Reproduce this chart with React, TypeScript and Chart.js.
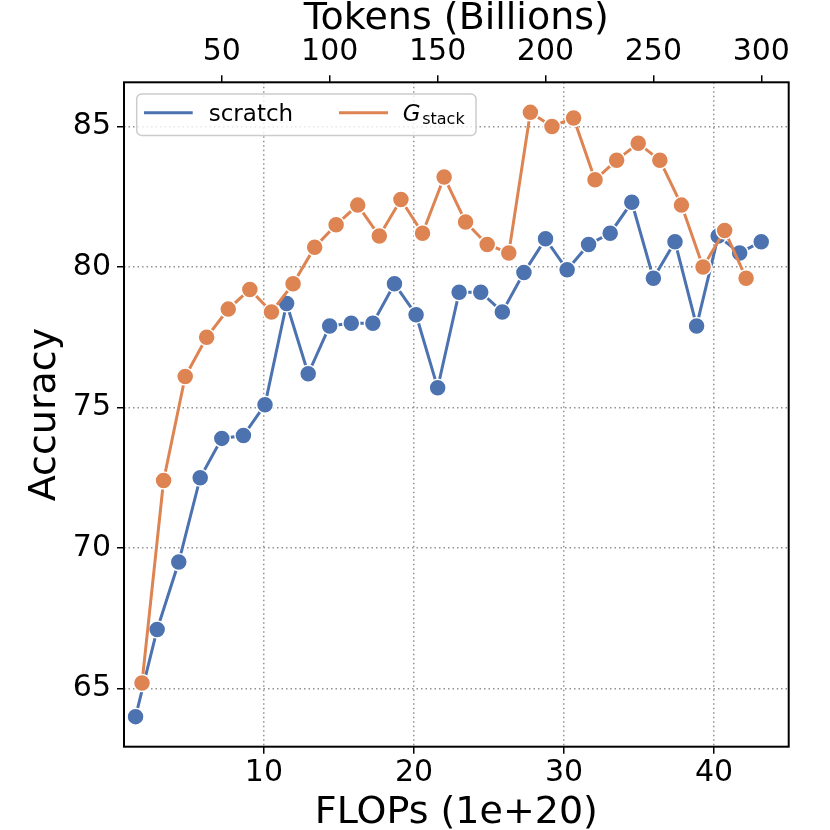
import React, { useEffect, useRef } from 'react';
import { Chart, registerables } from 'chart.js';

Chart.register(...registerables);

// FLOPs (1e+20) of each checkpoint
const scratchFlops = [1.44, 2.88, 4.32, 5.75, 7.19, 8.63, 10.07, 11.51, 12.95, 14.38, 15.82, 17.26, 18.70, 20.14, 21.58,
  23.01, 24.45, 25.89, 27.33, 28.77, 30.21, 31.64, 33.08, 34.52, 35.96, 37.40, 38.84, 40.28, 41.71, 43.15];
const scratchAcc = [64.0, 67.1, 69.5, 72.5, 73.9, 74.0, 75.1, 78.7, 76.2, 77.9, 78.0, 78.0, 79.4, 78.3, 75.7,
  79.1, 79.1, 78.4, 79.8, 81.0, 79.9, 80.8, 81.2, 82.3, 79.6, 80.9, 77.9, 81.1, 80.5, 80.9];

const gstackFlops = [1.87, 3.31, 4.75, 6.18, 7.62, 9.06, 10.50, 11.94, 13.38, 14.81, 16.25, 17.69, 19.13, 20.57, 22.01,
  23.44, 24.88, 26.32, 27.76, 29.20, 30.64, 32.07, 33.51, 34.95, 36.39, 37.83, 39.27, 40.71, 42.14];
const gstackAcc = [65.2, 72.4, 76.1, 77.5, 78.5, 79.2, 78.4, 79.4, 80.7, 81.5, 82.2, 81.1, 82.4, 81.2, 83.2,
  81.6, 80.8, 80.5, 85.5, 85.0, 85.3, 83.1, 83.8, 84.4, 83.8, 82.2, 80.0, 81.3, 79.6];

const flopsTicks = [10, 20, 30, 40];
const tokenTicks = [50, 100, 150, 200, 250, 300];
const accTicks = [65, 70, 75, 80, 85];

const FLOPS_PER_BTOKEN = 0.14384; // 1e20 FLOPs per billion tokens (top axis)
const X_MIN = 0.67;
const X_MAX = 44.98;
const Y_MIN = 62.93;
const Y_MAX = 86.57;

const BLUE = '#4C72B0';
const ORANGE = '#DD8452';
const GRID = 'rgba(128,128,128,0.85)';
const FONT = "'DejaVu Sans', sans-serif";

// matplotlib-like frame + legend (G with subscript "stack")
const framePlugin = {
  id: 'frameLegend',
  afterDatasetsDraw(chart: any) {
    const { ctx, chartArea: a } = chart;
    ctx.save();
    ctx.strokeStyle = '#000';
    ctx.lineWidth = 2;
    ctx.strokeRect(a.left, a.top, a.right - a.left, a.bottom - a.top);

    const lx = a.left + 12.7;
    const ly = a.top + 11.8;
    ctx.beginPath();
    ctx.roundRect(lx, ly, 339.3, 41.4, 5);
    ctx.fillStyle = 'rgba(255,255,255,0.8)';
    ctx.fill();
    ctx.strokeStyle = '#cccccc';
    ctx.lineWidth = 1.5;
    ctx.stroke();

    const my = ly + 18.7;
    ctx.lineWidth = 3;
    ctx.strokeStyle = BLUE;
    ctx.beginPath();
    ctx.moveTo(lx + 7.3, my);
    ctx.lineTo(lx + 56, my);
    ctx.stroke();
    ctx.strokeStyle = ORANGE;
    ctx.beginPath();
    ctx.moveTo(lx + 202.3, my);
    ctx.lineTo(lx + 251.3, my);
    ctx.stroke();

    ctx.fillStyle = '#000';
    ctx.textBaseline = 'alphabetic';
    ctx.textAlign = 'left';
    ctx.font = `23px ${FONT}`;
    ctx.fillText('scratch', lx + 72, ly + 26.7);
    ctx.font = `italic 23px ${FONT}`;
    ctx.fillText('G', lx + 266, ly + 26.7);
    ctx.font = `16px ${FONT}`;
    ctx.fillText('stack', lx + 285.5, ly + 29.7);
    ctx.restore();
  },
};

const App = () => {
  const canvasRef = useRef<HTMLCanvasElement>(null);

  useEffect(() => {
    if (!canvasRef.current) return;
    Chart.defaults.font.family = FONT;
    Chart.defaults.color = '#000';

    const tickGrid = {
      color: GRID,
      lineWidth: 1.5,
      tickColor: '#000',
      tickWidth: 1.5,
      tickLength: 7,
      tickBorderDash: [],
    };

    const config: any = {
      type: 'line',
      data: {
        datasets: [
          {
            label: 'scratch',
            data: scratchFlops.map((x, i) => ({ x, y: scratchAcc[i] })),
            borderColor: BLUE,
            backgroundColor: BLUE,
            borderWidth: 3,
            pointRadius: 8.5,
            pointBackgroundColor: BLUE,
            pointBorderColor: '#fff',
            pointBorderWidth: 1.5,
            tension: 0,
            order: 1,
          },
          {
            label: 'G_stack',
            data: gstackFlops.map((x, i) => ({ x, y: gstackAcc[i] })),
            borderColor: ORANGE,
            backgroundColor: ORANGE,
            borderWidth: 3,
            pointRadius: 8.5,
            pointBackgroundColor: ORANGE,
            pointBorderColor: '#fff',
            pointBorderWidth: 1.5,
            tension: 0,
            order: 0,
          },
        ],
      },
      options: {
        responsive: false,
        animation: false,
        events: [],
        layout: { padding: { left: 0, right: 41.3, top: 0, bottom: 0 } },
        plugins: {
          legend: { display: false },
          tooltip: { enabled: false },
        },
        scales: {
          x: {
            type: 'linear',
            position: 'bottom',
            min: X_MIN,
            max: X_MAX,
            afterBuildTicks: (s: any) => { s.ticks = flopsTicks.map((v) => ({ value: v })); },
            afterFit: (s: any) => { s.height = 83.3; },
            grid: tickGrid,
            border: { display: false, dash: [1.5, 3] },
            ticks: { font: { size: 30 }, color: '#000', padding: 1.5, maxRotation: 0, autoSkip: false, callback: (v: any) => String(v) },
            title: { display: true, text: 'FLOPs (1e+20)', color: '#000', font: { size: 38, lineHeight: 1 }, padding: { top: 0, bottom: -2 } },
          },
          x2: {
            type: 'linear',
            position: 'top',
            min: X_MIN / FLOPS_PER_BTOKEN,
            max: X_MAX / FLOPS_PER_BTOKEN,
            afterBuildTicks: (s: any) => { s.ticks = tokenTicks.map((v) => ({ value: v })); },
            afterFit: (s: any) => { s.height = 82.3; },
            grid: { ...tickGrid, drawOnChartArea: false },
            border: { display: false },
            ticks: { font: { size: 30 }, color: '#000', padding: 5, maxRotation: 0, autoSkip: false, callback: (v: any) => String(v) },
            title: { display: true, text: 'Tokens (Billions)', color: '#000', font: { size: 38, lineHeight: 1 }, padding: { top: 0, bottom: 0 } },
          },
          y: {
            type: 'linear',
            position: 'left',
            min: Y_MIN,
            max: Y_MAX,
            afterBuildTicks: (s: any) => { s.ticks = accTicks.map((v) => ({ value: v })); },
            afterFit: (s: any) => { s.width = 124; },
            grid: tickGrid,
            border: { display: false, dash: [1.5, 3] },
            ticks: { font: { size: 30 }, color: '#000', padding: 6, callback: (v: any) => String(v) },
            title: { display: true, text: 'Accuracy', color: '#000', font: { size: 38, lineHeight: 1 }, padding: { top: 26, bottom: 0 } },
          },
        },
      },
      plugins: [framePlugin],
    };

    const chart = new Chart(canvasRef.current, config);
    return () => {
      chart.destroy();
    };
  }, []);

  return (
    <div style={{ position: 'absolute', left: 0, top: 0, width: '830px', height: '830px', background: '#fff' }}>
      <canvas ref={canvasRef} width={830} height={830} style={{ width: '830px', height: '830px' }}></canvas>
    </div>
  );
};

export default App;
